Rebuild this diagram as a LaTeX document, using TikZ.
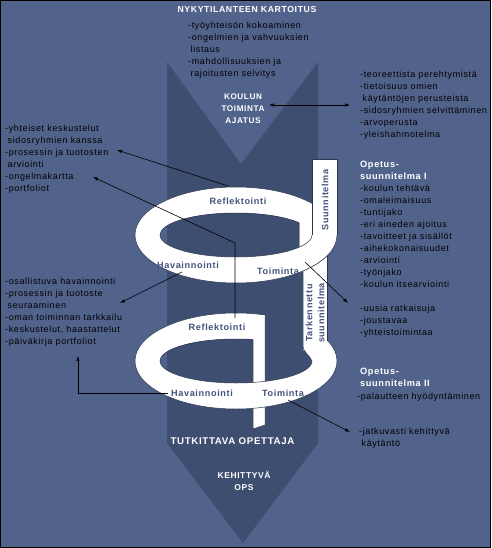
\documentclass[tikz,border=0pt]{standalone}
\usepackage{fontspec}
\setmainfont{Liberation Sans}[LetterSpace=7]
\usetikzlibrary{arrows.meta}
\definecolor{bgl}{RGB}{81,99,139}
\definecolor{bgd}{RGB}{62,78,112}
\definecolor{lbl}{RGB}{66,82,124}
\definecolor{edgec}{RGB}{45,55,80}
\newcommand{\paintbg}{%
  \fill[bgl] (0,0) rectangle (491,548);
  \fill[bgd] (167,62) -- (241,164) -- (318,62) -- (318,443) -- (243,543) -- (167,443) -- cycle;}
\begin{document}
\begin{tikzpicture}[x=1pt,y=-1pt,
  lst/.style={anchor=north west, align=left, inner sep=0pt, text=black, font=\fontsize{9}{12}\selectfont, execute at begin node=\strut},
  hdw/.style={anchor=base, align=center, inner sep=0pt, text=white},
  hdm/.style={anchor=north, align=center, inner sep=0pt, text=white, execute at begin node=\strut},
  opb/.style={anchor=north west, align=left, inner sep=0pt, text=white, font=\fontsize{9.2}{12}\selectfont\bfseries, execute at begin node=\strut},
  rib/.style={inner sep=0pt, text=lbl, font=\fontsize{9.1}{12}\selectfont\bfseries},
  arr/.style={line width=0.6pt, draw=black, -{Latex[length=5pt,width=3.5pt]}},
  darr/.style={line width=0.6pt, draw=black, {Latex[length=5pt,width=3.5pt]}-{Latex[length=5pt,width=3.5pt]}},
  edg/.style={draw=edgec, line width=0.5pt}]
\useasboundingbox (0,0) rectangle (491,548);
\paintbg

% ---------- lower level ----------
\fill[white] (236,361) ellipse [x radius=101, y radius=48];
\draw[edg] (236,361) ellipse [x radius=101, y radius=48];
\begin{scope}
  \clip (236,361) ellipse [x radius=76, y radius=22];
  \paintbg
\end{scope}
\draw[edg] (236,361) ellipse [x radius=76, y radius=22];
\begin{scope}
  \clip (265,290) rectangle (303,361);
  \paintbg
\end{scope}
\fill[white] (253,325) -- (253,429) -- (265,425) -- (265,315) -- cycle;
\draw[edg] (253,339.6) -- (253,429) -- (265,425) -- (265,315);
\fill[white] (337,361) arc[start angle=0,end angle=180,x radius=101,y radius=48]
  -- (160,361) arc[start angle=180,end angle=0,x radius=76,y radius=22] -- cycle;
\draw[edg] (337,361) arc[start angle=0,end angle=180,x radius=101,y radius=48];
\draw[edg] (312,361) arc[start angle=0,end angle=180,x radius=76,y radius=22];
\fill[white] (303,250) -- (303,345) .. controls (303,353) and (310,355) .. (312,361) -- (327,361) -- (327,250) -- cycle;
\draw[edg] (303,250) -- (303,345) .. controls (303,353) and (310,355) .. (312,361);
\draw[edg] (327,250) -- (327,340.5);

% ---------- upper level ----------
\fill[white] (236,235) ellipse [x radius=101, y radius=48];
\draw[edg] (236,235) ellipse [x radius=101, y radius=48];
\begin{scope}
  \clip (299,222.7) arc[start angle=-34,end angle=-326,x radius=76,y radius=22] -- cycle;
  \paintbg
\end{scope}
\draw[edg] (299,222.7) arc[start angle=-34,end angle=-326,x radius=76,y radius=22] -- cycle;
\fill[white] (337,235) arc[start angle=0,end angle=180,x radius=101,y radius=48]
  -- (160,235) arc[start angle=180,end angle=0,x radius=76,y radius=22] -- cycle;
\draw[edg] (337,235) arc[start angle=0,end angle=180,x radius=101,y radius=48];
\draw[edg] (312,235) arc[start angle=0,end angle=180,x radius=76,y radius=22];
\fill[white] (312,159) rectangle (337,235);
\draw[edg] (312,235) -- (312,159) -- (337,159) -- (337,235);

% ---------- ribbon labels ----------
\node[rib] (refl1) at (238,201) {Reflektointi};
\node[rib] (hav1) at (188,265) {Havainnointi};
\node[rib] (toim1) at (278,271) {Toiminta};
\node[rib, rotate=90] (suun) at (325,200) {Suunnitelma};
\node[rib, rotate=90, align=center] (tark) at (315,313) {Tarkennettu\\suunnitelma};
\node[rib] (refl2) at (217,327) {Reflektointi};
\node[rib] (hav2) at (202,393) {Havainnointi};
\node[rib] (toim2) at (283,393) {Toiminta};

% ---------- headings ----------
\node[hdw, font=\fontsize{8.7}{12}\selectfont\bfseries] (nyk) at (247,12.6) {NYKYTILANTEEN KARTOITUS};
\node[hdm, font=\fontsize{8.2}{12}\selectfont\bfseries] (kta) at (243,93.9) {KOULUN\\TOIMINTA\\AJATUS};
\node[hdw, font=\fontsize{9.7}{12}\selectfont\bfseries] (tut) at (232.5,444.3) {TUTKITTAVA OPETTAJA};
\node[hdm, font=\fontsize{8.5}{12}\selectfont\bfseries] (keh) at (244,470.9) {KEHITTYVÄ\\OPS};
\node[opb] (op1) at (360,161.1) {Opetus-\\suunnitelma I};
\node[opb] (op2) at (360,368.1) {Opetus-\\suunnitelma II};

% ---------- lists ----------
\node[lst] (topl) at (188,21.6) {-työyhteisön kokoaminen\\-ongelmien ja vahvuuksien\\\hspace{2.5pt}listaus\\-mahdollisuuksien ja\\\hspace{2.5pt}rajoitusten selvitys};
\node[lst] (rtop) at (360,70.6) {-teoreettista perehtymistä\\-tietoisuus omien\\\hspace{2.5pt}käytäntöjen perusteista\\-sidosryhmien selvittäminen\\-arvoperusta\\-yleishahmotelma};
\node[lst] (op1l) at (360,184.6) {-koulun tehtävä\\-omaleimaisuus\\-tuntijako\\-eri aineden ajoitus\\-tavoitteet ja sisällöt\\-aihekokonaisuudet\\-arviointi\\-työnjako\\-koulun itsearviointi\\[12pt]-uusia ratkaisuja\\-joustavaa\\-yhteistoimintaa};
\node[lst] (op2l) at (357,390.6) {-palautteen hyödyntäminen};
\node[lst] (jat) at (359,428.1) {-jatkuvasti kehittyvä\\\hspace{2.5pt}käytäntö};
\node[lst] (ltop) at (5,124.6) {-yhteiset keskustelut\\\hspace{2.5pt}sidosryhmien kanssa\\-prosessin ja tuotosten\\\hspace{2.5pt}arviointi\\-ongelmakartta\\-portfoliot};
\node[lst] (llow) at (5,277.6) {-osallistuva havainnointi\\-prosessin ja tuotoste\\\hspace{2.5pt}seuraaminen\\-oman toiminnan tarkkailu\\-keskustelut, haastattelut\\-päiväkirja portfoliot};

% ---------- connectors ----------
\coordinate (k1) at (269,105); \coordinate (k2) at (350,105);
\draw[darr] (k1) -- (k2);
\coordinate (a2s) at (228,186); \coordinate (a2e) at (117,150);
\draw[arr] (a2s) -- (a2e);
\coordinate (a3s) at (235,318); \coordinate (a3m) at (235,243); \coordinate (a3e) at (93,177);
\draw[arr] (a3s) -- (a3m) -- (a3e);
\coordinate (a4s) at (182,272); \coordinate (a4e) at (120,303);
\draw[arr] (a4s) -- (a4e);
\coordinate (a5s) at (168,393); \coordinate (a5m) at (78,393); \coordinate (a5e) at (78,356);
\draw[arr] (a5s) -- (a5m) -- (a5e);
\coordinate (a6s) at (305,262); \coordinate (a6e) at (348,303);
\draw[arr] (a6s) -- (a6e);
\coordinate (a7s) at (288,400); \coordinate (a7e) at (350,432);
\draw[arr] (a7s) -- (a7e);

\draw[black, line width=1pt] (0.5,0.5) rectangle (490.5,547.5);
\end{tikzpicture}
\end{document}
